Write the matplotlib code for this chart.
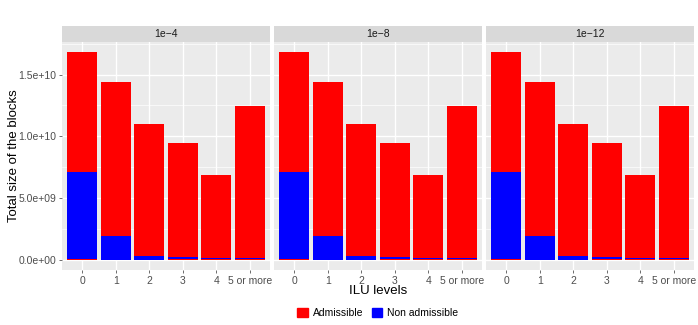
import matplotlib
matplotlib.use("Agg")
import matplotlib.pyplot as plt
import matplotlib.patches as mpatches
import numpy as np

plt.rcParams['font.family'] = ['Liberation Sans', 'DejaVu Sans']

facets = ["1e\u22124", "1e\u22128", "1e\u221212"]
levels = ["0", "1", "2", "3", "4", "5 or more"]
# stacked segments, bottom to top
adm_bottom = [0.08e9, 0.0, 0.0, 0.08e9, 0.06e9, 0.06e9]
non_adm = [7.0e9, 1.95e9, 0.32e9, 0.14e9, 0.07e9, 0.08e9]
adm_top = [9.72e9, 12.45e9, 10.68e9, 9.23e9, 6.74e9, 12.31e9]

yticks = [0, 5e9, 1e10, 1.5e10]
ytick_labels = ["0.0e+00", "5.0e+09", "1.0e+10", "1.5e+10"]

W, H = 698, 325
fig = plt.figure(figsize=(W / 100, H / 100), dpi=100)

RED = "#FF0000"
BLUE = "#0000FF"
panel_bg = "#EBEBEB"
strip_bg = "#D9D9D9"

panel_lefts = [62, 274, 486]
pw = 208
p_bottom = H - 270
p_height = 228
s_bottom = H - 42
s_height = 16

x = np.arange(len(levels))
a_b = np.array(adm_bottom)
n_a = np.array(non_adm)
a_t = np.array(adm_top)
total = a_b + n_a + a_t
ymax = total.max()
ylim = (-0.05 * ymax, 1.05 * ymax)

for i, (lab, left) in enumerate(zip(facets, panel_lefts)):
    ax = fig.add_axes([left / W, p_bottom / H, pw / W, p_height / H])
    ax.set_facecolor(panel_bg)
    ax.set_xlim(-0.6, len(levels) - 0.4)
    ax.set_ylim(*ylim)
    minor = [2.5e9, 7.5e9, 1.25e10, 1.75e10]
    for m in minor:
        ax.axhline(m, color="white", lw=0.5, zorder=0)
    for t in yticks:
        ax.axhline(t, color="white", lw=1.0, zorder=0)
    for xx in x:
        ax.axvline(xx, color="white", lw=1.0, zorder=0)
    ax.bar(x, a_b, width=0.9, color=RED, zorder=2)
    ax.bar(x, n_a, width=0.9, bottom=a_b, color=BLUE, zorder=2)
    ax.bar(x, a_t, width=0.9, bottom=a_b + n_a, color=RED, zorder=2)
    for sp in ax.spines.values():
        sp.set_visible(False)
    ax.set_xticks(x)
    ax.set_xticklabels(levels, fontsize=7.5, color="#4D4D4D")
    ax.tick_params(axis="x", length=2.5, width=0.5, color="#333333", pad=1.5)
    ax.set_yticks(yticks)
    if i == 0:
        ax.set_yticklabels(ytick_labels, fontsize=7.5, color="#4D4D4D")
        ax.tick_params(axis="y", length=2.5, width=0.5, color="#333333", pad=1.5)
    else:
        ax.tick_params(axis="y", length=0, labelleft=False)
    ax.grid(False)

    sax = fig.add_axes([left / W, s_bottom / H, pw / W, s_height / H])
    sax.set_facecolor(strip_bg)
    sax.set_xticks([])
    sax.set_yticks([])
    for sp in sax.spines.values():
        sp.set_visible(False)
    sax.text(0.5, 0.5, lab, ha="center", va="center", fontsize=7.5, color="#1A1A1A",
             transform=sax.transAxes)

fig.text(14 / W, 1 - 156 / H, "Total size of the blocks", ha="center", va="center",
         rotation=90, fontsize=9.5)
fig.text((62 + 695) / 2 / W, 1 - 291 / H, "ILU levels", ha="center", va="center", fontsize=9.5)

handles = [mpatches.Patch(color=RED, label="Admissible"),
           mpatches.Patch(color=BLUE, label="Non admissible")]
fig.legend(handles=handles, loc="center", bbox_to_anchor=(378 / W, 1 - 313 / H), ncol=2,
           frameon=False, fontsize=7.5, handlelength=1.0, handleheight=1.0,
           handletextpad=0.5, columnspacing=0.8)

fig.savefig("out.png", dpi=100, facecolor="white")
